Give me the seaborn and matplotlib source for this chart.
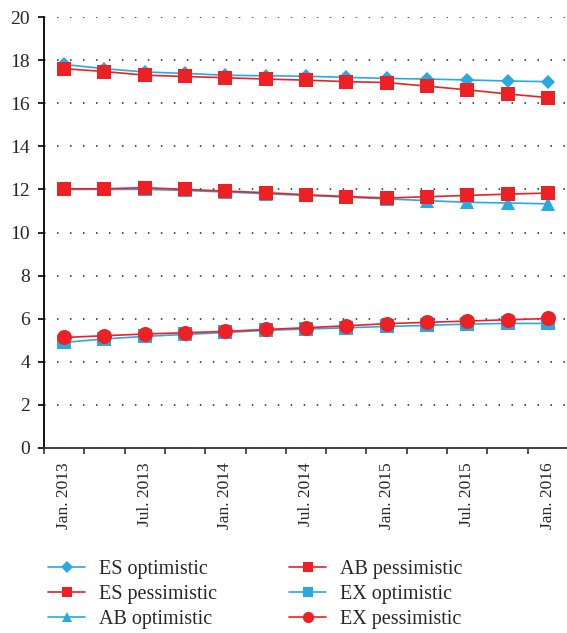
import numpy as np
import pandas as pd
import seaborn as sns
import matplotlib.pyplot as plt

# Quarterly dates (only Jan/Jul are labelled on the axis)
quarters = ["Jan. 2013", "Apr. 2013", "Jul. 2013", "Oct. 2013",
            "Jan. 2014", "Apr. 2014", "Jul. 2014", "Oct. 2014",
            "Jan. 2015", "Apr. 2015", "Jul. 2015", "Oct. 2015",
            "Jan. 2016"]

es_optimistic = [17.8, 17.6, 17.45, 17.38, 17.3, 17.27, 17.25, 17.2, 17.15, 17.12, 17.08, 17.03, 17.0]
es_pessimistic = [17.6, 17.47, 17.3, 17.24, 17.18, 17.12, 17.07, 17.0, 16.96, 16.79, 16.62, 16.43, 16.26]
ab_optimistic = [12.0, 12.0, 12.0, 11.95, 11.88, 11.8, 11.72, 11.64, 11.56, 11.48, 11.4, 11.37, 11.33]
ab_pessimistic = [12.03, 12.03, 12.08, 12.0, 11.92, 11.85, 11.75, 11.67, 11.6, 11.66, 11.72, 11.78, 11.83]
ex_optimistic = [4.9, 5.06, 5.18, 5.27, 5.36, 5.46, 5.52, 5.58, 5.64, 5.69, 5.75, 5.78, 5.78]
ex_pessimistic = [5.13, 5.21, 5.29, 5.35, 5.41, 5.5, 5.58, 5.67, 5.77, 5.83, 5.89, 5.95, 6.01]

blue = "#29A9E1"
red = "#ED2024"

series = [
    ("ES optimistic", es_optimistic, blue, "D", 7.6),
    ("ES pessimistic", es_pessimistic, red, "s", 9.8),
    ("AB optimistic", ab_optimistic, blue, "^", 10.5),
    ("AB pessimistic", ab_pessimistic, red, "s", 9.8),
    ("EX optimistic", ex_optimistic, blue, "s", 9.8),
    ("EX pessimistic", ex_pessimistic, red, "o", 10.8),
]

sns.set_style("white")
plt.rcParams["font.family"] = ["Liberation Serif", "DejaVu Serif"]

fig = plt.figure(figsize=(5.67, 6.33), dpi=100)
ax = fig.add_axes([44 / 567, 1 - 448 / 633, 524 / 567, 431 / 633])

x = np.arange(len(quarters))
for name, vals, color, marker, ms in series:
    df = pd.DataFrame({"q": x, "v": vals})
    sns.lineplot(data=df, x="q", y="v", ax=ax, color=color, marker=marker,
                 markersize=ms, markeredgewidth=0, linewidth=1.2, label=name)

ax.set_xlim(-0.5, len(quarters) - 0.5)
ax.set_ylim(0, 20)
ax.set_yticks(range(0, 21, 2))
ax.yaxis.grid(True, color="#222222", linestyle=(0, (1, 7.5)), linewidth=1.1)
ax.xaxis.grid(False)

# tick marks between categories, labels on Jan/Jul
ax.set_xticks(np.arange(-0.5, len(quarters), 1.0))
ax.set_xticklabels([])
ax.set_xticks(x[::2], quarters[::2], minor=True)
ax.tick_params(axis="x", which="major", direction="out", length=4, width=1.2, bottom=True, color="#333333")
ax.tick_params(axis="x", which="minor", length=0, pad=10, labelsize=12.5, labelrotation=90)
ax.tick_params(axis="y", direction="out", length=4, width=1.2, left=True, pad=6, labelsize=14, color="black")

for s in ["top", "right"]:
    ax.spines[s].set_visible(False)
ax.spines["left"].set_color("black")
ax.spines["left"].set_linewidth(1.3)
ax.spines["bottom"].set_color("#333333")
ax.spines["bottom"].set_linewidth(1.3)
ax.set_xlabel("")
ax.set_ylabel("")

handles, labels = ax.get_legend_handles_labels()
ax.get_legend().remove()
fig.legend(handles, labels, ncol=2, loc="upper left", bbox_to_anchor=(38 / 567, 1 - 550 / 633),
           frameon=False, fontsize=14.5, handlelength=1.85, handletextpad=0.7,
           labelspacing=0.3, columnspacing=3.55, markerscale=0.75, borderpad=0)

fig.savefig("out.png", dpi=100)
